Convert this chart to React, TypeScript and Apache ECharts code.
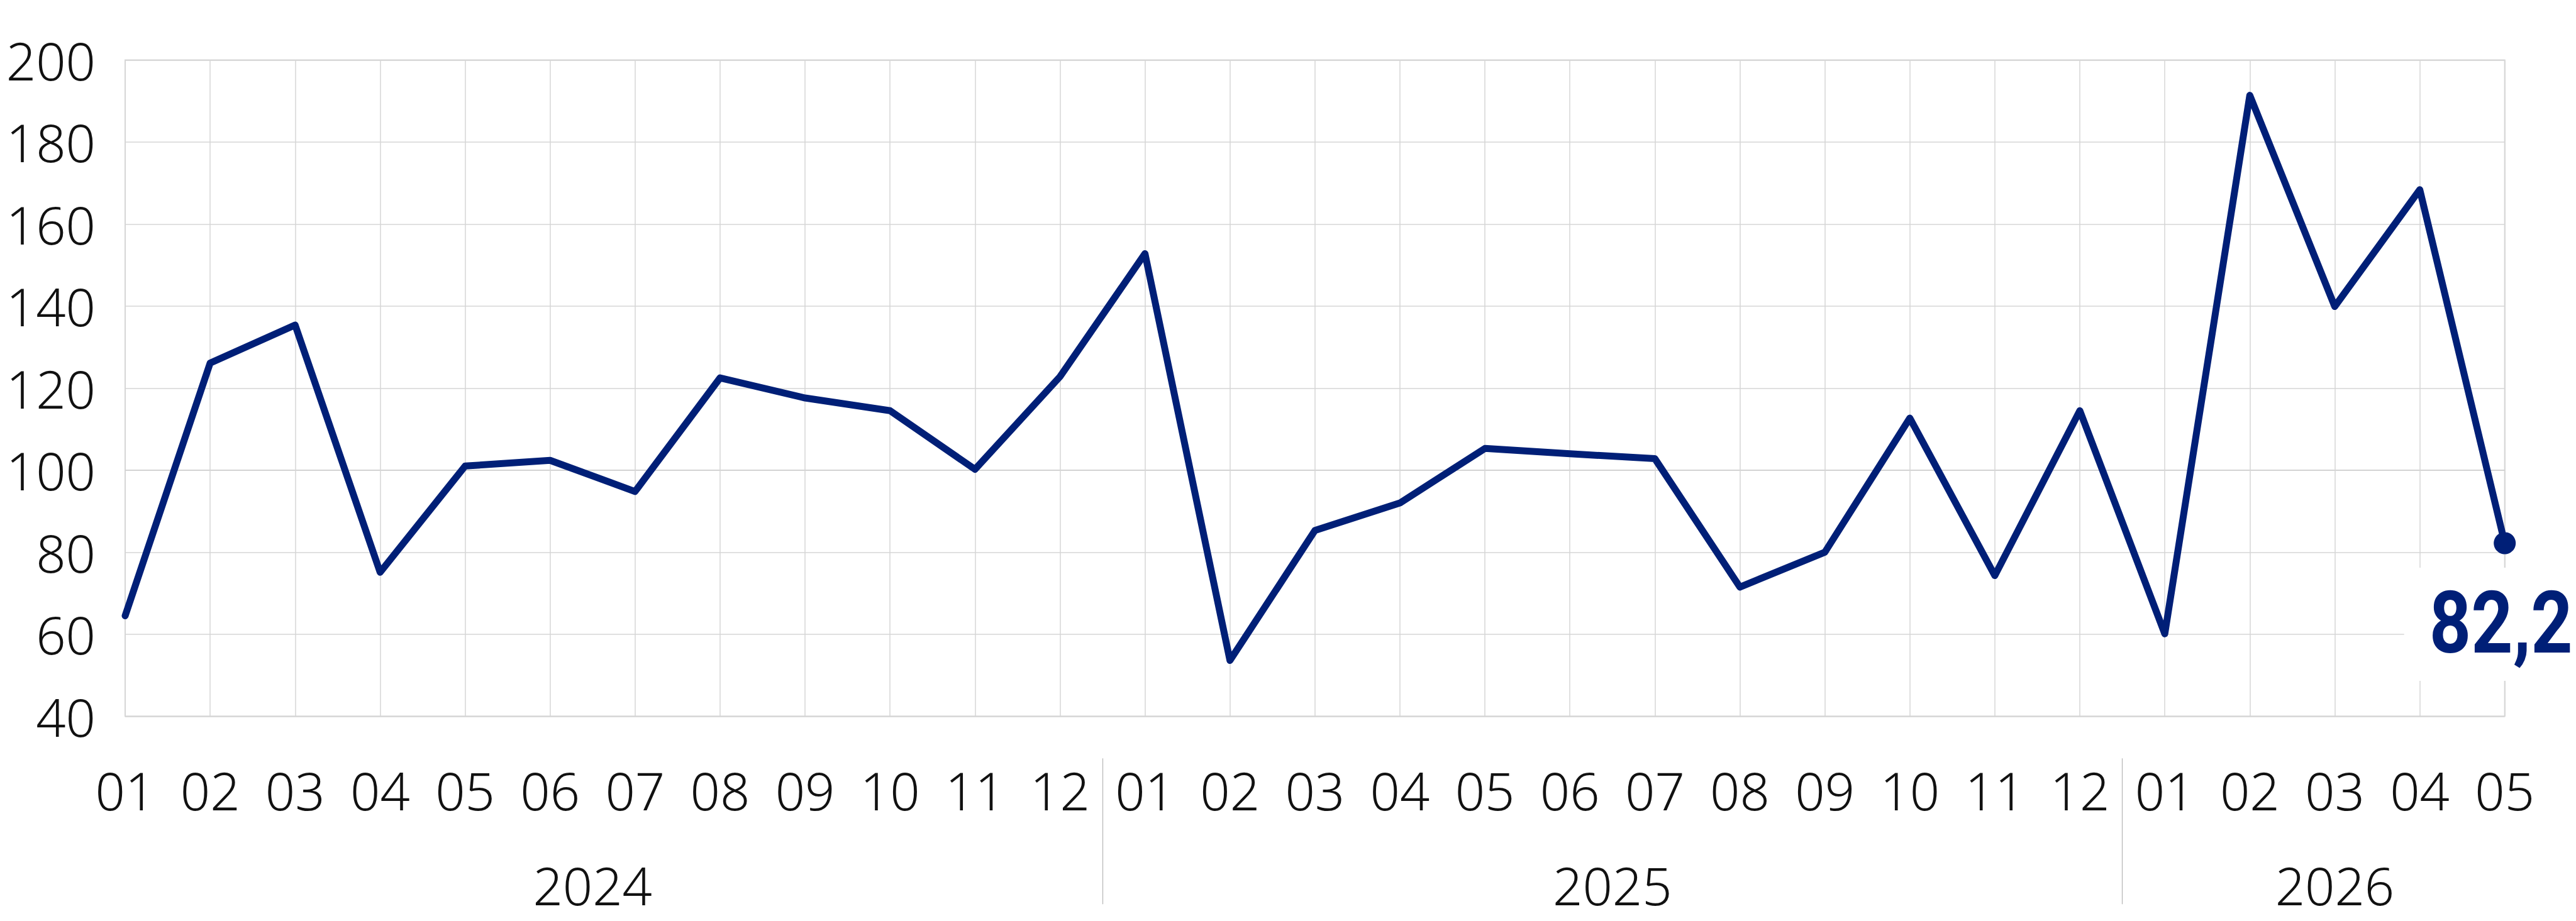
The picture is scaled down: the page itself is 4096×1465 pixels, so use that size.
import React, { useEffect, useRef } from "react";
import * as echarts from "echarts";

// ---- data ----
const years = ["2024", "2025", "2026"];
const months2024 = ["01", "02", "03", "04", "05", "06", "07", "08", "09", "10", "11", "12"];
const months2025 = ["01", "02", "03", "04", "05", "06", "07", "08", "09", "10", "11", "12"];
const months2026 = ["01", "02", "03", "04", "05"];
const monthsByYear = [months2024, months2025, months2026];

const values2024 = [64.5, 126.1, 135.4, 75.1, 101.0, 102.4, 94.8, 122.5, 117.6, 114.5, 100.2, 122.8];
const values2025 = [152.8, 53.6, 85.3, 92.0, 105.3, 104.0, 102.8, 71.5, 80.0, 112.7, 74.3, 114.5];
const values2026 = [60.1, 191.4, 139.9, 168.4, 82.2];

const yMin = 40;
const yMax = 200;
const yStep = 20;

// ---- derived ----
const categories: string[] = [];
monthsByYear.forEach((ms, i) => ms.forEach((m) => categories.push(years[i] + "-" + m)));
const values = [...values2024, ...values2025, ...values2026];
const lastIndex = values.length - 1;

const yearCenters: number[] = [];
const yearSeparators: number[] = [];
{
  let start = 0;
  monthsByYear.forEach((ms, i) => {
    yearCenters.push(start + (ms.length - 1) / 2);
    if (i < monthsByYear.length - 1) yearSeparators.push(start + ms.length - 0.5);
    start += ms.length;
  });
}

const NAVY = "#001f77";
const GRID = "#d6d6d6";
const FONT = '"Noto Sans", "Open Sans", sans-serif';
const LABEL_FS = 83;

export default function App() {
  const ref = useRef<HTMLDivElement>(null);
  useEffect(() => {
    if (!ref.current) return;
    const chart = echarts.init(ref.current, undefined, { renderer: "svg" });
    const seriesData = values.map((v, i) =>
      i === lastIndex ? { value: v, symbol: "circle", symbolSize: 35 } : { value: v }
    );
    const splitColors: string[] = [];
    for (let v = yMin; v <= yMax; v += yStep) splitColors.push(v === 100 ? "#c4c4c4" : GRID);

    chart.setOption({
      animation: false,
      backgroundColor: "#ffffff",
      textStyle: { fontFamily: FONT, fontWeight: 300 },
      grid: {
        left: 199,
        top: 95.5,
        right: 113.3,
        bottom: 325.7,
        show: true,
        borderColor: GRID,
        borderWidth: 2,
        outerBoundsMode: "none",
        containLabel: false,
      },
      xAxis: [
        {
          type: "category",
          data: categories,
          boundaryGap: false,
          axisLine: { show: false },
          axisTick: { show: false },
          splitLine: { show: true, interval: 0, lineStyle: { color: GRID, width: 1.5 } },
          axisLabel: {
            interval: 0,
            margin: 76,
            fontSize: LABEL_FS,
            fontFamily: FONT,
            fontWeight: 300,
            color: "#111111",
            formatter: (v: string) => v.slice(5),
          },
        },
        {
          type: "value",
          min: 0,
          max: categories.length - 1,
          position: "bottom",
          offset: 67,
          axisLine: { show: false },
          splitLine: { show: false },
          axisTick: {
            show: true,
            customValues: yearSeparators,
            length: 232,
            lineStyle: { color: "#b4b4b4", width: 1.2 },
          },
          axisLabel: {
            customValues: yearCenters,
            margin: 160,
            fontSize: LABEL_FS,
            fontFamily: FONT,
            fontWeight: 300,
            color: "#111111",
            formatter: (v: number) => {
              const idx = yearCenters.findIndex((c) => Math.abs(c - v) < 1e-6);
              return idx >= 0 ? years[idx] : "";
            },
          },
        },
      ],
      yAxis: {
        type: "value",
        min: yMin,
        max: yMax,
        interval: yStep,
        axisLine: { show: false },
        axisTick: { show: false },
        splitLine: { show: true, lineStyle: { color: splitColors, width: 1.5 } },
        axisLabel: {
          margin: 47,
          fontSize: LABEL_FS,
          fontFamily: FONT,
          fontWeight: 300,
          color: "#111111",
        },
      },
      series: [
        {
          type: "line",
          xAxisIndex: 0,
          data: seriesData,
          symbol: "none",
          showSymbol: true,
          lineStyle: { color: NAVY, width: 11, join: "round", cap: "round" },
          itemStyle: { color: NAVY },
          z: 3,
        },
        {
          type: "custom",
          xAxisIndex: 0,
          clip: false,
          z: 4,
          data: [[lastIndex, values[lastIndex]]],
          renderItem: (params: any, api: any) => {
            const pt = api.coord([api.value(0), api.value(1)]);
            const txt = String(api.value(1)).replace(".", ",");
            return {
              type: "group",
              x: pt[0],
              y: pt[1],
              children: [
                {
                  type: "rect",
                  shape: { x: -160, y: 39, width: 320, height: 180 },
                  style: { fill: "#ffffff" },
                },
                {
                  type: "text",
                  x: -6,
                  y: 127,
                  scaleX: 0.84,
                  style: {
                    text: txt,
                    fill: NAVY,
                    fontFamily: "Roboto",
                    fontWeight: "bold",
                    fontSize: 138,
                    align: "center",
                    verticalAlign: "middle",
                  },
                },
              ],
            };
          },
        },
      ],
    });
    return () => chart.dispose();
  }, []);
  return (
    <div
      ref={ref}
      style={{ position: "fixed", left: 0, top: 0, width: 4096, height: 1465, background: "#fff" }}
    />
  );
}
